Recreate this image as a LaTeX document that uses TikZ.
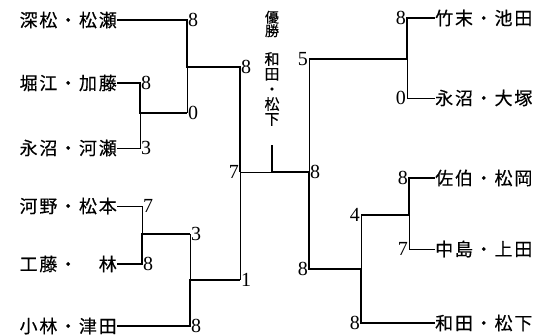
\documentclass[tikz,border=0pt]{standalone}
\usepackage{fontspec}
\setmainfont{Liberation Serif}
\newfontfamily\cjk[LetterSpace=10,FakeBold=0.4]{Noto Sans CJK JP}
\newfontfamily\cjkv[FakeBold=0.4]{Noto Sans CJK JP}
\usetikzlibrary{positioning}
\tikzset{
  win/.style={line width=2.4pt,line join=miter},
  lose/.style={line width=0.7pt},
  pairL/.style={font=\cjk\fontsize{18}{18}\selectfont,inner sep=0pt,anchor=east},
  pairR/.style={font=\cjk\fontsize{18}{18}\selectfont,inner sep=0pt,anchor=west},
  ptR/.style={font=\fontsize{20}{20}\selectfont,inner sep=1pt,anchor=west},
  ptL/.style={font=\fontsize{20}{20}\selectfont,inner sep=1pt,anchor=east},
  vtitle/.style={font=\cjkv\fontsize{14}{13.5}\selectfont,align=center,inner sep=0pt},
}

\begin{document}
\begin{tikzpicture}[x=1pt,y=-1pt]
  \useasboundingbox (0,0) rectangle (542,336);
  % --- teams (left block) ---
  \node[pairL] (fm) at (117,20)  {深松・松瀬};
  \node[pairL] (hk) at (117,83)  {堀江・加藤};
  \node[pairL] (nk) at (117,148) {永沼・河瀬};
  \node[pairL] (km) at (117,206) {河野・松本};
  \node[pairL] (kh) at (117,264) {工藤・　林};
  \node[pairL] (kt) at (117,326) {小林・津田};
  % --- teams (right block) ---
  \node[pairR] (ti) at (435,18)  {竹末・池田};
  \node[pairR] (no) at (435,98)  {永沼・大塚};
  \node[pairR] (sm) at (435,178) {佐伯・松岡};
  \node[pairR] (nu) at (435,249) {中島・上田};
  \node[pairR] (wm) at (435,323) {和田・松下};
  % junctions
  \coordinate (j1) at (140,113);
  \coordinate (j2) at (187,67);
  \coordinate (j3) at (142,234);
  \coordinate (j4) at (190,280);
  \coordinate (j5) at (240,172);
  \coordinate (j6) at (407,59);
  \coordinate (j7) at (409,215);
  \coordinate (j8) at (361,269);
  \coordinate (j9) at (309,172);
  \coordinate (top) at (272,145);
  \coordinate (fin) at (272,172);
  % left half
  \draw[lose] (nk.east) -- (nk.east -| j1) -- (j1);
  \draw[win]  (hk.east) -- (hk.east -| j1) -- (j1) -- (j1 -| j2);
  \draw[lose] (j1 -| j2) -- (j2);
  \draw[lose] (km.east) -- (km.east -| j3) -- (j3);
  \draw[win]  (kh.east) -- (kh.east -| j3) -- (j3) -- (j3 -| j4);
  \draw[lose] (j3 -| j4) -- (j4);
  \draw[win]  (kt.east) -- (kt.east -| j4) -- (j4) -- (j4 -| j5);
  \draw[lose] (j4 -| j5) -- (j5) -- (fin);
  \draw[win]  (fm.east) -- (fm.east -| j2) -- (j2) -- (j2 -| j5) -- (j5);
  % right half
  \draw[lose] (no.west) -- (no.west -| j6) -- (j6);
  \draw[win]  (ti.west) -- (ti.west -| j6) -- (j6) -- (j6 -| j9);
  \draw[lose] (j6 -| j9) -- (j9);
  \draw[lose] (nu.west) -- (nu.west -| j7) -- (j7);
  \draw[win]  (sm.west) -- (sm.west -| j7) -- (j7) -- (j7 -| j8);
  \draw[lose] (j7 -| j8) -- (j8);
  \draw[win]  (wm.west) -- (wm.west -| j8) -- (j8) -- (j8 -| j9) -- (j9) -- (fin) -- (top);
  % scores
  \node[ptR] at (fm.east -| j2) {8};
  \node[ptR] at (hk.east -| j1) {8};
  \node[ptR] at (nk.east -| j1) {3};
  \node[ptR] at (j1 -| j2) {0};
  \node[ptR] at (j2 -| j5) {8};
  \node[ptR] at (km.east -| j3) {7};
  \node[ptR] at (kh.east -| j3) {8};
  \node[ptR] at (j3 -| j4) {3};
  \node[ptR] at (kt.east -| j4) {8};
  \node[ptR] at (j4 -| j5) {1};
  \node[ptL] at (j5) {7};
  \node[ptL] at (ti.west -| j6) {8};
  \node[ptL] at (no.west -| j6) {0};
  \node[ptL] at (j6 -| j9) {5};
  \node[ptL] at (sm.west -| j7) {8};
  \node[ptL] at (nu.west -| j7) {7};
  \node[ptL] at (j7 -| j8) {4};
  \node[ptL] at (wm.west -| j8) {8};
  \node[ptL] at (j8 -| j9) {8};
  \node[ptR] at (j9) {8};
  % title (vertical)
  \node[vtitle] (ttl) at (272,24) {優\\勝};
  \node[vtitle,font=\cjkv\fontsize{15}{15}\selectfont] (chp) at (272,89) {和\\田\\・\\松\\下};
\end{tikzpicture}
\end{document}
